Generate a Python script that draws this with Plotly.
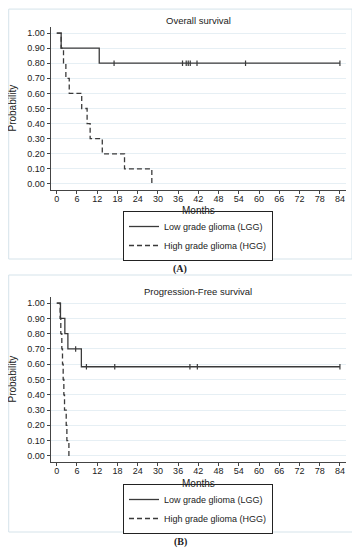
import plotly.graph_objects as go

# ---------------- data (months) ----------------
months_ticks = list(range(0, 85, 6))
prob_ticks = [i / 10 for i in range(0, 11)]

os_lgg_events = [1.3, 12.6]
os_lgg_censored = [17.0, 37.3, 38.4, 39.0, 39.6, 41.6, 56.0, 84.0]
os_hgg_events = [1.3, 2.0, 2.7, 3.7, 7.4, 9.0, 9.9, 13.5, 20.1, 28.2]
os_hgg_censored = []

pfs_lgg_events = [1.1, 2.4, 3.3, 7.3]
pfs_lgg_censored = [5.6, 8.8, 17.2, 39.5, 41.7, 84.0]
pfs_hgg_events = [1.0, 1.2, 1.5, 1.7, 1.9, 2.1, 2.3, 2.8, 3.0, 3.6]
pfs_hgg_censored = []

labels = ["Low grade glioma (LGG)", "High grade glioma (HGG)"]
panel_titles = ["Overall survival", "Progression-Free survival"]
panel_tags = ["(A)", "(B)"]


def kaplan_meier(events, censored):
    recs = sorted([(t, 1) for t in events] + [(t, 0) for t in censored])
    n = len(recs)
    s = 1.0
    xs, ys = [0.0], [1.0]
    cx, cy = [], []
    for t, e in recs:
        if e:
            s = s * (n - 1) / n
            xs.append(t)
            ys.append(s)
        else:
            cx.append(t)
            cy.append(s)
        n -= 1
    last = max([t for t, _ in recs])
    if xs[-1] < last:
        xs.append(last)
        ys.append(s)
    return xs, ys, cx, cy


# page body has an 8px margin: figure is drawn from (8, 8)
OFF = 8
W, H = 360 - OFF, 550 - OFF
def px_x(p): return min(max((p - OFF) / W, 0.002), 0.998)
def px_y(p): return min(max(1 - (p - OFF) / H, 0.002), 0.998)

fig = go.Figure()
line_col = "#3a3a3a"

panels = [
    dict(groups=[(os_lgg_events, os_lgg_censored), (os_hgg_events, os_hgg_censored)],
         xa="x", ya="y", legend="legend", top=27, bottom=190, box=(4, 5, 352, 259),
         title_y=20, months_y=211, tag_y=269, leg_mid=236),
    dict(groups=[(pfs_lgg_events, pfs_lgg_censored), (pfs_hgg_events, pfs_hgg_censored)],
         xa="x2", ya="y2", legend="legend2", top=297, bottom=462, box=(4, 275, 353, 532),
         title_y=291, months_y=483, tag_y=542, leg_mid=509),
]

annotations = []
shapes = []
for pi, p in enumerate(panels):
    for gi, (ev, ce) in enumerate(p["groups"]):
        xs, ys, cx, cy = kaplan_meier(ev, ce)
        fig.add_trace(go.Scatter(
            x=xs, y=ys, mode="lines", line_shape="hv", name=labels[gi],
            line=dict(color=line_col, width=1.3, dash="solid" if gi == 0 else "5px,3px"),
            xaxis=p["xa"], yaxis=p["ya"], legend=p["legend"], showlegend=True,
            hoverinfo="skip"))
        if cx:
            fig.add_trace(go.Scatter(
                x=cx, y=cy, mode="markers",
                marker=dict(symbol="line-ns", size=4, line=dict(color=line_col, width=1.2)),
                xaxis=p["xa"], yaxis=p["ya"], showlegend=False, hoverinfo="skip"))
    bx0, by0, bx1, by1 = p["box"]
    shapes.append(dict(type="rect", xref="paper", yref="paper",
                       x0=px_x(bx0), x1=px_x(bx1), y0=px_y(by1), y1=px_y(by0),
                       line=dict(color="#d5e3ea", width=1), layer="below"))
    common = dict(xref="paper", yref="paper", showarrow=False, xanchor="center", yanchor="middle")
    annotations += [
        dict(text=panel_titles[pi], x=px_x(198), y=px_y(p["title_y"]),
             font=dict(size=9.5, color="#222"), **common),
        dict(text="Months", x=px_x(198), y=px_y(p["months_y"]),
             font=dict(size=10, color="#222"), **common),
        dict(text="Probability", x=px_x(12), y=px_y((p["top"] + p["bottom"]) / 2), textangle=-90,
             font=dict(size=10, color="#222"), **common),
        dict(text="<b>" + panel_tags[pi] + "</b>", x=px_x(180), y=px_y(p["tag_y"]),
             font=dict(size=10, color="#222", family="Liberation Serif"), **common),
    ]

xdom = [px_x(50.7), px_x(346)]
axis_common_x = dict(domain=xdom, range=[-1.8, 85.8], tickvals=months_ticks, ticks="outside",
                     ticklen=3, tickcolor="#444", showline=True, linecolor="#444", linewidth=1,
                     showgrid=False, zeroline=False, tickfont=dict(size=9, color="#222"),
                     ticklabelstandoff=-3)
axis_common_y = dict(range=[-0.04, 1.04], tickvals=prob_ticks, tickformat=".2f", ticks="outside",
                     ticklen=3, tickcolor="#444", showline=True, linecolor="#444", linewidth=1,
                     showgrid=True, gridcolor="#e6eff4", gridwidth=1, zeroline=False,
                     tickfont=dict(size=9, color="#222"))

legend_common = dict(xanchor="center", x=px_x(198), yanchor="middle", bgcolor="white",
                     bordercolor="#222", borderwidth=1, font=dict(size=9, color="#222"),
                     itemwidth=30, tracegroupgap=0)

fig.update_layout(
    width=W, height=H, margin=dict(l=0, r=0, t=0, b=0),
    paper_bgcolor="white", plot_bgcolor="white",
    font=dict(family="Liberation Sans, Arial, sans-serif", color="#222"),
    xaxis=dict(**axis_common_x, anchor="y"),
    yaxis=dict(**axis_common_y, domain=[px_y(190), px_y(27)], anchor="x"),
    xaxis2=dict(**axis_common_x, anchor="y2"),
    yaxis2=dict(**axis_common_y, domain=[px_y(462), px_y(297)], anchor="x2"),
    legend=dict(**legend_common, y=px_y(panels[0]["leg_mid"])),
    legend2=dict(**legend_common, y=px_y(panels[1]["leg_mid"])),
    annotations=annotations, shapes=shapes,
)

fig.write_html("out.html")
